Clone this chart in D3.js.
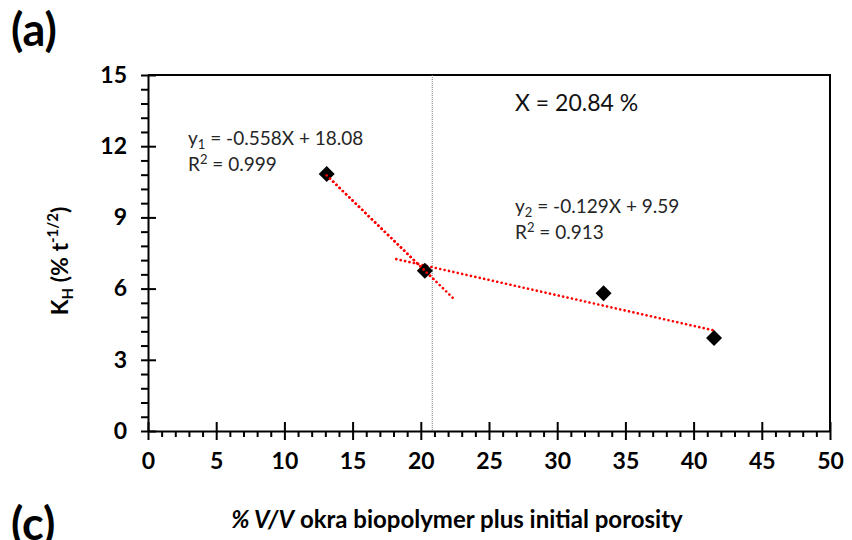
<!DOCTYPE html>
<html>
<head>
<meta charset="utf-8">
<script src="https://cdn.jsdelivr.net/npm/d3@7"></script>
<style>
  html, body { margin: 0; padding: 0; background: #fff; }
  svg { display: block; font-family: Lato, "Open Sans", sans-serif; }
</style>
</head>
<body>
<svg id="chart" width="852" height="540"></svg>
<script>
// Measured samples: okra biopolymer + initial porosity (% V/V) vs. K_H
const porosity = [13.1, 20.3, 33.4, 41.5];
const kH = [10.83, 6.75, 5.8, 3.92];

// Two linear regimes and their intersection
const fit1 = { slope: -0.558, intercept: 18.08, from: 13.1, to: 22.4, label: "-0.558X + 18.08", r2: "0.999", sub: "1" };
const fit2 = { slope: -0.129, intercept: 9.59, from: 18.2, to: 41.6, label: "-0.129X + 9.59", r2: "0.913", sub: "2" };
const breakX = 20.84;

const xMajor = [0, 5, 10, 15, 20, 25, 30, 35, 40, 45, 50];
const yMajor = [0, 3, 6, 9, 12, 15];

const svg = d3.select("#chart");
const m = { left: 148, right: 830, top: 75, bottom: 431 };

const x = d3.scaleLinear().domain([0, 50]).range([m.left, m.right]);
const y = d3.scaleLinear().domain([0, 15]).range([m.bottom, m.top]);

// Plot frame (top and right edges)
svg.append("path")
  .attr("d", `M${m.left},${m.top}H${m.right}V${m.bottom}`)
  .attr("fill", "none").attr("stroke", "#000").attr("stroke-width", 2);

// Minor ticks
const xMinor = d3.range(0, 51, 1).filter(v => v % 5 !== 0);
const yMinor = d3.range(0, 15.01, 0.6).map(v => +v.toFixed(1)).filter(v => Math.abs(v % 3) > 1e-6 && Math.abs(v % 3 - 3) > 1e-6);

svg.append("g").attr("transform", `translate(0,${m.bottom})`)
  .call(d3.axisBottom(x).tickValues(xMinor).tickSize(6).tickFormat(""))
  .call(g => g.select(".domain").remove())
  .call(g => g.selectAll("line").attr("stroke-width", 2));

svg.append("g").attr("transform", `translate(${m.left},0)`)
  .call(d3.axisLeft(y).tickValues(yMinor).tickSize(7).tickFormat(""))
  .call(g => g.select(".domain").remove())
  .call(g => g.selectAll("line").attr("stroke-width", 2));

// Major axes with ticks crossing the axis line
const xAxis = svg.append("g").attr("transform", `translate(0,${m.bottom})`)
  .call(d3.axisBottom(x).tickValues(xMajor).tickSize(9).tickSizeOuter(0).tickPadding(13));
xAxis.selectAll(".tick line").attr("y1", -9).attr("y2", 9).attr("stroke-width", 2);
xAxis.select(".domain").attr("stroke-width", 2);
xAxis.selectAll("text").attr("font-size", 23).attr("font-weight", 700).attr("fill", "#000")
  .attr("font-family", "Lato, sans-serif");

const yAxis = svg.append("g").attr("transform", `translate(${m.left},0)`)
  .call(d3.axisLeft(y).tickValues(yMajor).tickSize(7).tickSizeOuter(0).tickPadding(14));
yAxis.selectAll(".tick line").attr("x1", -7).attr("x2", 8).attr("stroke-width", 2);
yAxis.select(".domain").attr("stroke-width", 2);
yAxis.selectAll("text").attr("font-size", 23).attr("font-weight", 700).attr("fill", "#000")
  .attr("font-family", "Lato, sans-serif");

// Break point marker
svg.append("line")
  .attr("x1", x(breakX)).attr("x2", x(breakX))
  .attr("y1", y(15)).attr("y2", y(0))
  .attr("stroke", "#777").attr("stroke-width", 1).attr("stroke-dasharray", "1,1");

// Trend lines
[fit1, fit2].forEach(f => {
  svg.append("line")
    .attr("x1", x(f.from)).attr("y1", y(f.slope * f.from + f.intercept))
    .attr("x2", x(f.to)).attr("y2", y(f.slope * f.to + f.intercept))
    .attr("stroke", "#ff0000").attr("stroke-width", 2.6)
    .attr("stroke-dasharray", "0.1,4.4").attr("stroke-linecap", "round");
});

// Data points (diamonds)
svg.append("g").selectAll("path")
  .data(porosity.map((p, i) => [p, kH[i]]))
  .join("path")
  .attr("transform", d => `translate(${x(d[0])},${y(d[1])})`)
  .attr("d", "M0,-8L8,0L0,8L-8,0Z")
  .attr("fill", "#000");

// Steep trend line drawn again on top so its dots show through the markers
svg.append("line")
  .attr("x1", x(fit1.from)).attr("y1", y(fit1.slope * fit1.from + fit1.intercept))
  .attr("x2", x(21)).attr("y2", y(fit1.slope * 21 + fit1.intercept))
  .attr("stroke", "#ff0000").attr("stroke-width", 2.6)
  .attr("stroke-dasharray", "0.1,4.4").attr("stroke-linecap", "round");

// Equation labels
function equation(xp, yp, f) {
  const t1 = svg.append("text").attr("x", xp).attr("y", yp)
    .attr("font-size", 19).attr("fill", "#262626");
  t1.append("tspan").text("y");
  t1.append("tspan").attr("font-size", 13).attr("dy", 4).text(f.sub);
  t1.append("tspan").attr("dy", -4).text(" = " + f.label);
  const t2 = svg.append("text").attr("x", xp).attr("y", yp + 26)
    .attr("font-size", 19).attr("fill", "#262626");
  t2.append("tspan").text("R");
  t2.append("tspan").attr("font-size", 13).attr("dy", -7).text("2");
  t2.append("tspan").attr("dy", 7).text(" = " + f.r2);
}
equation(188, 145, fit1);
equation(515, 213, fit2);

svg.append("text").attr("x", 515).attr("y", 111)
  .attr("font-size", 23).attr("fill", "#111")
  .text(`X = ${breakX} %`);

// Axis titles
const xt = svg.append("text").attr("x", 457).attr("y", 528)
  .attr("text-anchor", "middle").attr("font-size", 24).attr("font-weight", 700).attr("fill", "#000");
xt.append("tspan").attr("font-style", "italic").text("% V/V");
xt.append("tspan").text(" okra biopolymer plus initial porosity");

const yt = svg.append("text")
  .attr("transform", `translate(68,${(m.top + m.bottom) / 2 + 8}) rotate(-90)`)
  .attr("text-anchor", "middle").attr("font-size", 23).attr("font-weight", 700).attr("fill", "#000");
yt.append("tspan").text("K");
yt.append("tspan").attr("font-size", 15).attr("dy", 5).text("H");
yt.append("tspan").attr("dy", -5).text(" (% t");
yt.append("tspan").attr("font-size", 15).attr("dy", -10).text("-1/2");
yt.append("tspan").attr("dy", 10).text(")");

// Panel letters
svg.append("text").attr("x", 11).attr("y", 46)
  .attr("font-size", 45).attr("font-weight", 700).attr("fill", "#000").text("(a)");
svg.append("text").attr("x", 11).attr("y", 540)
  .attr("font-size", 45).attr("font-weight", 700).attr("fill", "#000").text("(c)");
</script>
</body>
</html>
